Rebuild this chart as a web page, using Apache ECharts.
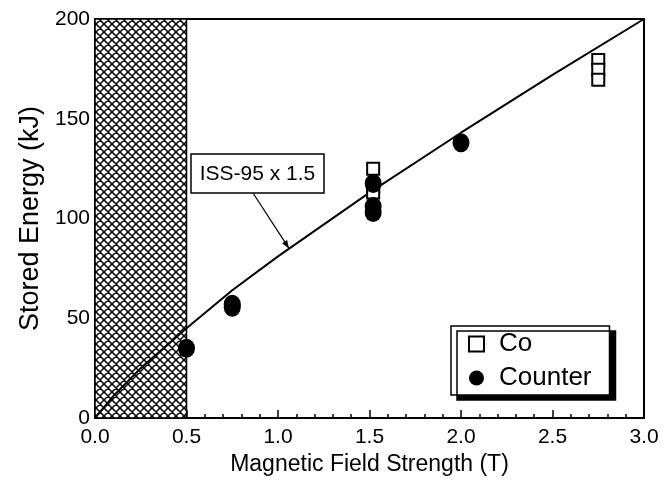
<!DOCTYPE html>
<html><head><meta charset="utf-8">
<script src="https://cdn.jsdelivr.net/npm/echarts@6/dist/echarts.min.js"></script>
<style>html,body{margin:0;padding:0;background:#fff}#c{width:670px;height:493px}</style>
</head><body><div id="c"></div>
<script>
var xTicks = [0, 0.5, 1.0, 1.5, 2.0, 2.5, 3.0];
var yTicks = [0, 50, 100, 150, 200];
var coData = [[1.52, 125], [1.52, 116], [1.52, 113], [2.75, 179.5], [2.75, 174.5], [2.75, 169.5]];
var counterData = [[0.5, 35], [0.75, 57], [0.75, 55.5], [1.52, 117.5], [1.52, 106], [1.52, 103], [2.0, 138]];
var issLine = [[0, 0], [0.1, 11], [0.25, 25], [0.5, 45], [0.75, 64], [1.0, 81], [1.5, 113], [2.0, 143], [2.5, 172], [3.0, 200]];
var hatchRange = [0, 0.5];
var annotText = 'ISS-95 x 1.5';
var annotTarget = [1.06, 85];

var FONT = '"Liberation Sans", Arial, sans-serif';
// crosshatch pattern
var S = 8;
var pc = document.createElement('canvas');
pc.width = S; pc.height = S;
var g = pc.getContext('2d');
g.fillStyle = '#fff'; g.fillRect(0,0,S,S);
g.strokeStyle = '#000'; g.lineWidth = 1.5;
g.beginPath();
for (var k = -1; k <= 1; k++) {
  g.moveTo(k*S - 1, -1); g.lineTo(k*S + S + 1, S + 1);
  g.moveTo(k*S - 1, S + 1); g.lineTo(k*S + S + 1, -1);
}
g.stroke();

var chart = echarts.init(document.getElementById('c'), null, {renderer: 'canvas'});
var axisCommon = {
  axisLine: {show: true, onZero: false, lineStyle: {color: '#000', width: 2}},
  splitLine: {show: false}
};
chart.setOption({
  animation: false,
  backgroundColor: '#fff',
  grid: {left: 95, right: 26, top: 19, bottom: 75},
  xAxis: [Object.assign({}, axisCommon, {
    type: 'value', min: xTicks[0], max: xTicks[xTicks.length-1], interval: 0.5,
    name: 'Magnetic Field Strength (T)', nameLocation: 'middle', nameGap: 35,
    nameTextStyle: {fontFamily: FONT, fontSize: 23, color: '#000'},
    axisTick: {inside: true, length: 8, lineStyle: {color: '#000', width: 1.5}},
    minorTick: {show: true, splitNumber: 5, length: 4, lineStyle: {color: '#000', width: 1.5}},
    axisLabel: {fontFamily: FONT, fontSize: 21, color: '#000', margin: 9, formatter: function(v){return v.toFixed(1);}}
  }), Object.assign({}, axisCommon, {
    type: 'value', position: 'top', min: 0, max: 3, interval: 0.5,
    axisTick: {show: false}, axisLabel: {show: false}
  })],
  yAxis: [Object.assign({}, axisCommon, {
    type: 'value', min: yTicks[0], max: yTicks[yTicks.length-1], interval: 50,
    name: 'Stored Energy (kJ)', nameLocation: 'middle', nameGap: 48,
    nameTextStyle: {fontFamily: FONT, fontSize: 27, color: '#000'},
    axisTick: {inside: true, length: 8, lineStyle: {color: '#000', width: 1.5}},
    minorTick: {show: true, splitNumber: 5, length: 4, lineStyle: {color: '#000', width: 1.5}},
    axisLabel: {fontFamily: FONT, fontSize: 21, color: '#000', margin: 5}
  }), Object.assign({}, axisCommon, {
    type: 'value', position: 'right', min: 0, max: 200, interval: 50,
    axisTick: {show: false}, axisLabel: {show: false}
  })],
  legend: {
    orient: 'vertical', left: 451, top: 326,
    data: [{name: 'Co', icon: 'rect'}, {name: 'Counter', icon: 'circle'}],
    backgroundColor: '#fff', borderColor: '#000', borderWidth: 1.5, borderRadius: 0,
    shadowColor: '#000', shadowBlur: 0, shadowOffsetX: 6, shadowOffsetY: 5,
    padding: [4, 18, 3, 17], itemGap: 6, itemWidth: 15, itemHeight: 15,
    textStyle: {fontFamily: FONT, fontSize: 26, lineHeight: 28, color: '#000', padding: [0, 0, 0, 10]}
  },
  series: [
    {
      name: 'ISS', type: 'line', data: issLine, showSymbol: false, symbol: 'none',
      lineStyle: {color: '#000', width: 2}, z: 3,
      markArea: {silent: true, itemStyle: {color: {image: pc, repeat: 'repeat'}, borderColor: '#000', borderWidth: 1.5, opacity: 1},
        data: [[{xAxis: hatchRange[0], yAxis: yTicks[0]}, {xAxis: hatchRange[1], yAxis: yTicks[yTicks.length-1]}]]}
    },
    {
      name: 'Co', type: 'scatter', data: coData, symbol: 'rect', symbolSize: 12,
      itemStyle: {color: '#fff', borderColor: '#000', borderWidth: 2, opacity: 1}, z: 4
    },
    {
      name: 'Counter', type: 'scatter', data: counterData, symbol: 'circle', symbolSize: [17, 19],
      itemStyle: {color: '#000', opacity: 1}, z: 5
    }
  ]
});
var tp = chart.convertToPixel({xAxisIndex: 0, yAxisIndex: 0}, annotTarget);
var bx = 191, by = 154, bw = 133, bh = 39;
var ax0 = 253;
var ang = Math.atan2(tp[1] - (by + bh), tp[0] - ax0);
function rot(dx, dy){ return [tp[0] + dx*Math.cos(ang) - dy*Math.sin(ang), tp[1] + dx*Math.sin(ang) + dy*Math.cos(ang)]; }
chart.setOption({
  graphic: [
    {type: 'line', shape: {x1: ax0, y1: by + bh, x2: tp[0], y2: tp[1]}, style: {stroke: '#000', lineWidth: 1.2}, z: 10},
    {type: 'polygon', shape: {points: [[tp[0], tp[1]], rot(-8, -3), rot(-8, 3)]}, style: {fill: '#000'}, z: 10},
    {type: 'rect', shape: {x: bx, y: by, width: bw, height: bh}, style: {fill: '#fff', stroke: '#000', lineWidth: 1.5}, z: 10},
    {type: 'text', x: bx + bw/2, y: by + bh/2 + 1, style: {text: annotText, fontFamily: FONT, fontSize: 21, fill: '#000', align: 'center', verticalAlign: 'middle'}, z: 11}
  ]
});
</script></body></html>
